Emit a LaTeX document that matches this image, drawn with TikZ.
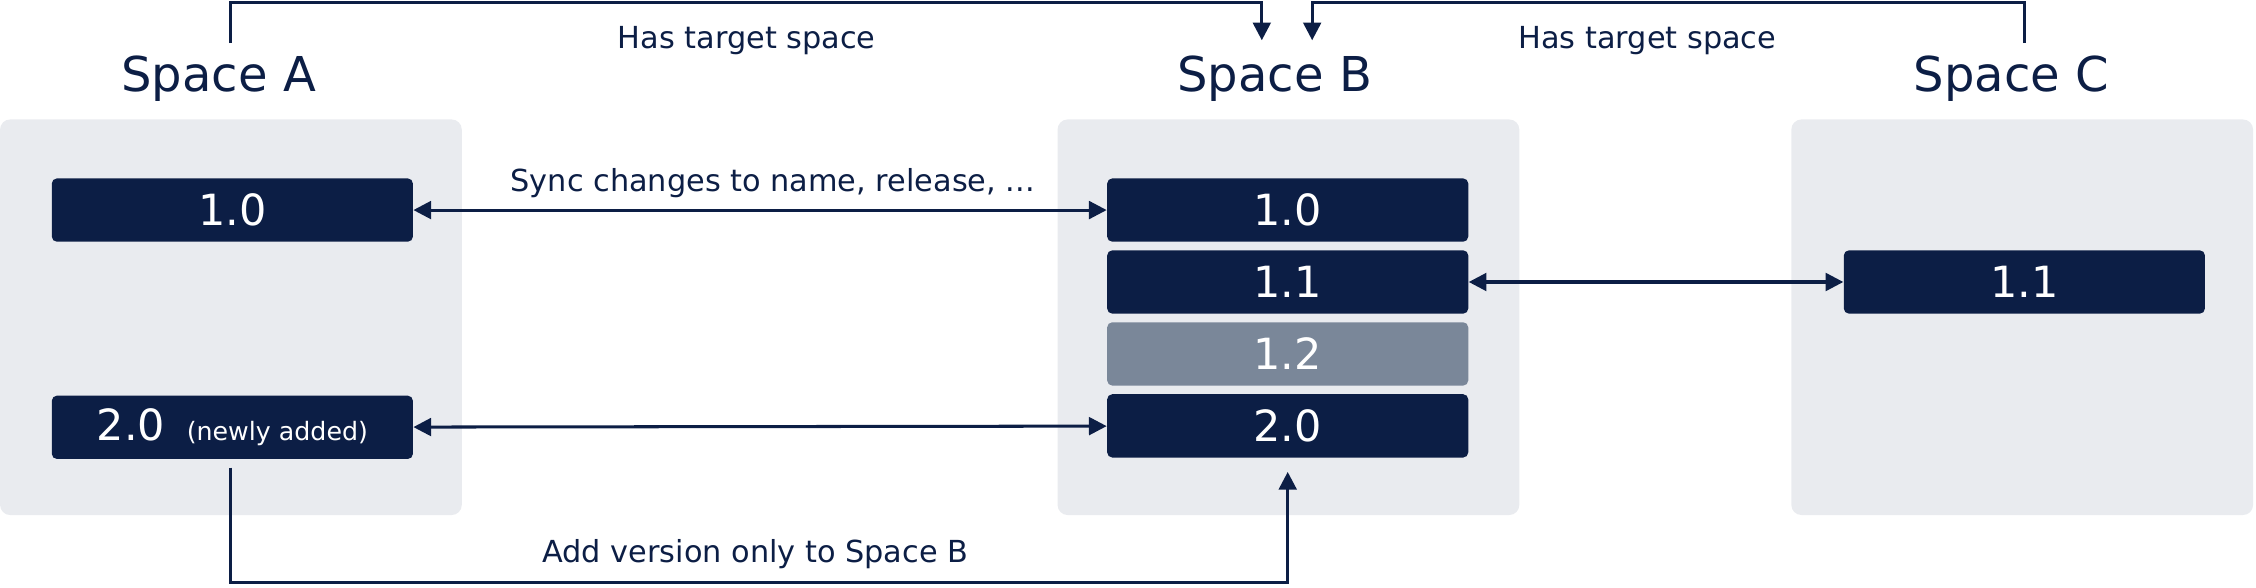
\documentclass[tikz,border=0pt]{standalone}
\usepackage{fontspec}
\setmainfont{DejaVu Sans}
\usetikzlibrary{arrows.meta, positioning}
\definecolor{panelgray}{RGB}{233, 235, 239}
\definecolor{navy}{RGB}{12, 30, 69}
\definecolor{slate}{RGB}{122, 135, 153}

\begin{document}
\begin{tikzpicture}[
    x=0.02cm, y=-0.02cm,
    panel/.style={rectangle, rounded corners=4pt, fill=panelgray, minimum width=6.42cm, minimum height=5.5cm},
    version/.style={rectangle, rounded corners=2pt, fill=navy, text=white, minimum width=5.02cm, minimum height=0.88cm, font=\fontsize{17}{20}\selectfont},
    title/.style={font=\fontsize{19}{22}\selectfont, text=navy},
    label/.style={font=\fontsize{12}{14}\selectfont, text=navy},
    arrow/.style={line width=1.2pt, draw=navy, -{Triangle[length=7pt, width=7pt]}},
    twoway/.style={line width=1.2pt, draw=navy, {Triangle[length=7pt, width=7pt]}-{Triangle[length=7pt, width=7pt]}}
]
\useasboundingbox (0,0) rectangle (1568,408);

% Panels
\node (panel_a) [panel] at (160.5,220.5) {};
\node (panel_b) [panel] at (895.5,220.5) {};
\node (panel_c) [panel] at (1405.5,220.5) {};

% Titles
\node (title_a) [title] at (152,55) {Space A};
\node (title_b) [title] at (886,55) {Space B};
\node (title_c) [title] at (1398,55) {Space C};

% Versions
\node (a10) [version] at (161.5,146) {1.0};
\node (a20) [version] at (161.5,297) {2.0 {\fontsize{10}{12}\selectfont\ (newly added)}};
\node (b10) [version] at (895,146) {1.0};
\node (b11) [version] at (895,196) {1.1};
\node (b12) [version, fill=slate] at (895,246) {1.2};
\node (b20) [version] at (895,296) {2.0};
\node (c11) [version] at (1407,196) {1.1};

% Coordinates for the target links
\coordinate (a_top) at (160,30);
\coordinate (b_left) at (877,28);
\coordinate (b_right) at (912,28);
\coordinate (c_top) at (1407,30);
\coordinate (a_start) at (160,325);
\coordinate (a_low) at (160,405);
\coordinate (b_end) at (895,328);

% Connectors
\draw [arrow] (a_top) |- (877,2) -- (b_left);
\draw [arrow] (c_top) |- (912,2) -- (b_right);
\draw [twoway] (a10) -- (b10);
\draw [twoway] (a20) -- (b20);
\draw [twoway] (b11) -- (c11);
\draw [arrow] (a_start) -- (a_low) -| (b_end);

% Labels
\node (has_ab) [label] at (519,28) {Has target space};
\node (has_cb) [label] at (1145,28) {Has target space};
\node (sync) [label] at (537,127) {Sync changes to name, release, ...};
\node (add) [label] at (525,385) {Add version only to Space B};

\end{tikzpicture}
\end{document}
